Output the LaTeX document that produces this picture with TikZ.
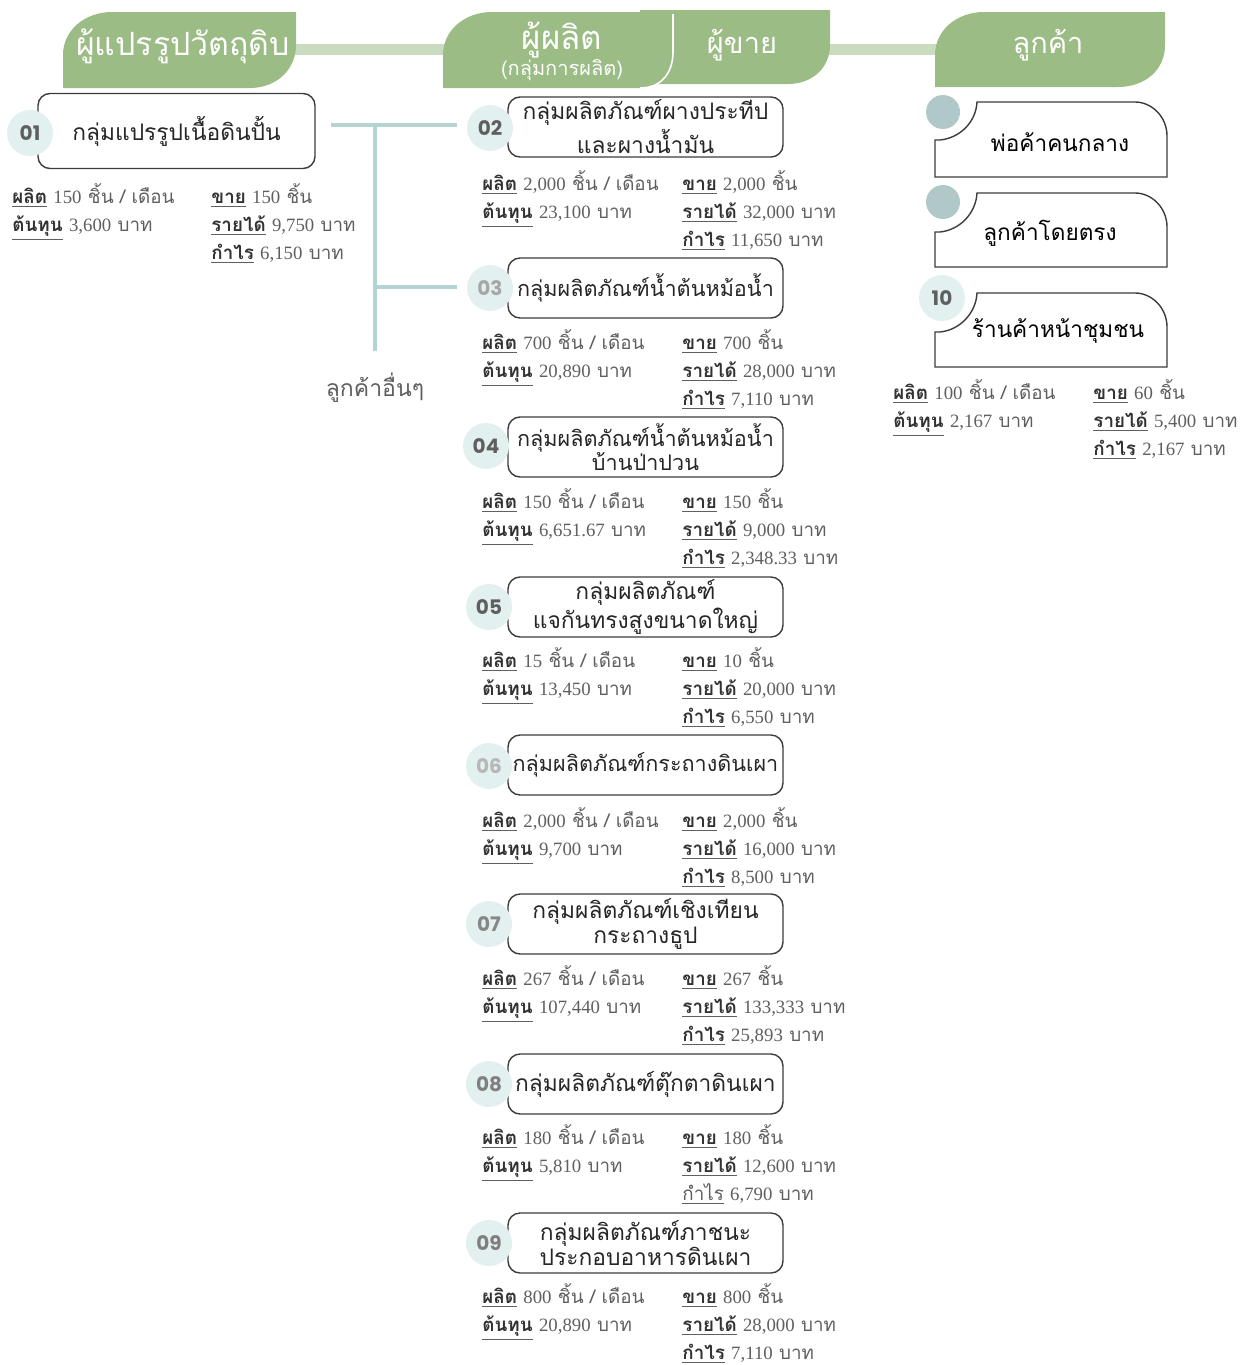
\documentclass[tikz,border=0pt]{standalone}
\usepackage{fontspec}
\setmainfont[Script=Thai]{Loma}
\newfontfamily\numfont{Poppins}
\newfontfamily\valfont{Liberation Serif}
\usetikzlibrary{positioning}
\definecolor{hgreen}{RGB}{155,188,133}
\definecolor{hbar}{RGB}{202,220,192}
\definecolor{linkteal}{RGB}{180,212,212}
\definecolor{numbg}{RGB}{226,240,240}
\definecolor{custbg}{RGB}{176,200,200}
\definecolor{boxline}{RGB}{60,60,60}
\definecolor{statgray}{RGB}{95,95,95}
\definecolor{labelgray}{RGB}{50,50,50}
\definecolor{numgray}{RGB}{95,95,95}
\newcommand{\lbl}[1]{\underline{\textbf{\color{labelgray}#1}}}
\newcommand{\val}[1]{{\valfont #1}}
\tikzset{
  hdrtext/.style={text=white, inner sep=0pt},
  grpbox/.style={draw=boxline, line width=0.7pt, rounded corners=6pt, minimum width=137.5pt,
    minimum height=30pt, align=center, inner sep=1pt, text=black!85,
    font=\fontsize{11.4}{12.5}\selectfont},
  longtitle/.style={font=\fontsize{10.8}{12}\selectfont},
  numdot/.style={circle, fill=numbg, minimum size=23pt, inner sep=0pt, text=numgray,
    font=\numfont\bfseries\fontsize{10}{10}\selectfont},
  custdot/.style={circle, fill=custbg, minimum size=17pt, inner sep=0pt},
  custline/.style={draw=boxline, line width=0.7pt, fill=white},
  custtext/.style={inner sep=0pt, text=black, font=\fontsize{11.3}{12}\selectfont},
  statcol/.style={anchor=north west, align=left, inner sep=0pt, text=statgray,
    font=\fontsize{9.4}{14}\selectfont},
  link/.style={draw=linkteal, line width=2pt},
}
\begin{document}
\begin{tikzpicture}[x=0.5pt, y=-0.5pt]
\useasboundingbox (0,0) rectangle (1245,1365);

\fill[hbar] (290,44) rectangle (945,55);
\fill[hgreen] (63,88) -- (63,55) .. controls (63,30) and (85,12) .. (112,12) -- (296,12)
  -- (296,45) .. controls (296,70) and (276,88) .. (250,88) -- cycle;
\fill[hgreen] (640,10) -- (830,10) -- (830,45) .. controls (830,68) and (812,84) .. (788,84)
  -- (640,84) -- cycle;
\fill[hgreen] (443,88) -- (443,55) .. controls (443,30) and (465,12) .. (492,12) -- (673,12)
  -- (673,52) .. controls (673,72) and (662,88) .. (640,88) -- cycle;
\draw[white, line width=0.8pt] (673,14) -- (673,52) .. controls (673,72) and (662,88) .. (640,88);
\fill[hgreen] (935,87) -- (935,55) .. controls (935,30) and (957,12) .. (984,12) -- (1165,12)
  -- (1165,45) .. controls (1165,70) and (1145,87) .. (1118,87) -- cycle;

\node[hdrtext, font=\fontsize{16}{16}\selectfont] (h01) at (183,46) {ผู้แปรรูปวัตถุดิบ};
\node[hdrtext, font=\fontsize{16.5}{16.5}\selectfont] (h02) at (562,40) {ผู้ผลิต};
\node[hdrtext, font=\fontsize{10}{10}\selectfont] (h02b) at (562,70) {(กลุ่มการผลิต)};
\node[hdrtext, font=\fontsize{14.5}{14.5}\selectfont] (h03) at (742,45) {ผู้ขาย};
\node[hdrtext, font=\fontsize{14.5}{14.5}\selectfont] (h04) at (1048,45) {ลูกค้า};

\node[grpbox, minimum width=138.5pt, minimum height=37.5pt] (g01) at (176.5,131) {กลุ่มแปรรูปเนื้อดินปั้น};
\node[grpbox] (g02) at (645.5,127) {กลุ่มผลิตภัณฑ์ผางประทีป\\[1pt]และผางน้ำมัน};
\node[grpbox, longtitle] (g03) at (645.5,288) {กลุ่มผลิตภัณฑ์น้ำต้นหม้อน้ำ};
\node[grpbox, longtitle] (g04) at (645.5,447) {กลุ่มผลิตภัณฑ์น้ำต้นหม้อน้ำ\\บ้านป่าปวน};
\node[grpbox] (g05) at (645.5,607) {กลุ่มผลิตภัณฑ์\\แจกันทรงสูงขนาดใหญ่};
\node[grpbox, longtitle] (g06) at (645.5,765) {กลุ่มผลิตภัณฑ์กระถางดินเผา};
\node[grpbox] (g07) at (645.5,924) {กลุ่มผลิตภัณฑ์เชิงเทียน\\กระถางธูป};
\node[grpbox] (g08) at (645.5,1084) {กลุ่มผลิตภัณฑ์ตุ๊กตาดินเผา};
\node[grpbox] (g09) at (645.5,1243) {กลุ่มผลิตภัณฑ์ภาชนะ\\ประกอบอาหารดินเผา};

\node[numdot] (n01) at (30,133) {01};
\node[numdot] (n02) at (490,128) {02};
\node[numdot, text=numgray!55] (n03) at (490,288) {03};
\node[numdot] (n04) at (486,446) {04};
\node[numdot] (n05) at (489,607) {05};
\node[numdot, text=numgray!45] (n06) at (489,766) {06};
\node[numdot, text=numgray!75] (n07) at (489,924) {07};
\node[numdot, text=numgray!80] (n08) at (489,1084) {08};
\node[numdot, text=numgray!80] (n09) at (489,1243) {09};

\coordinate (j1) at (375,125);
\coordinate (j2) at (375,287);
\node[text=statgray, inner sep=0pt, font=\fontsize{11.5}{12}\selectfont] (other) at (375,388) {ลูกค้าอื่นๆ};
\draw[link] ([xshift=7.5pt]g01.east |- j1) -- ([xshift=-5pt]n02.west |- j1);
\draw[link] (j1) -- ([yshift=11pt]other.north);
\draw[link] (j2) -- ([xshift=-5pt]n03.west |- j2);

\draw[custline] (935,177) -- (935,140) -- (940,140) .. controls (960,138) and (976,122) .. (977,102)
  -- (1135,102) .. controls (1152,102) and (1167,117) .. (1167,136) -- (1167,177) -- cycle;
\draw[custline] (935,267) -- (935,232) -- (940,232) .. controls (960,230) and (976,213) .. (977,193)
  -- (1135,193) .. controls (1152,193) and (1167,208) .. (1167,227) -- (1167,267) -- cycle;
\draw[custline] (935,367) -- (935,332) -- (940,332) .. controls (960,330) and (976,313) .. (977,293)
  -- (1135,293) .. controls (1152,293) and (1167,308) .. (1167,327) -- (1167,367) -- cycle;
\node[custdot] (c01) at (943,112) {};
\node[custdot] (c02) at (943,202) {};
\node[numdot] (n10) at (942,298) {10};
\node[custtext] (k01) at (1060,142) {พ่อค้าคนกลาง};
\node[custtext] (k02) at (1050,233) {ลูกค้าโดยตรง};
\node[custtext] (k03) at (1058,331) {ร้านค้าหน้าชุมชน};

\node[statcol] (s01a) at (12,179) {\rule{0pt}{12pt}\lbl{ผลิต} \val{150} ชิ้น / เดือน\\\lbl{ต้นทุน} \val{3,600} บาท};
\node[statcol] (s01b) at (211,179) {\rule{0pt}{12pt}\lbl{ขาย} \val{150} ชิ้น\\\lbl{รายได้} \val{9,750} บาท\\\lbl{กำไร} \val{6,150} บาท};
\node[statcol] (s02a) at (482,166) {\rule{0pt}{12pt}\lbl{ผลิต} \val{2,000} ชิ้น / เดือน\\\lbl{ต้นทุน} \val{23,100} บาท};
\node[statcol] (s02b) at (682,166) {\rule{0pt}{12pt}\lbl{ขาย} \val{2,000} ชิ้น\\\lbl{รายได้} \val{32,000} บาท\\\lbl{กำไร} \val{11,650} บาท};
\node[statcol] (s03a) at (482,325) {\rule{0pt}{12pt}\lbl{ผลิต} \val{700} ชิ้น / เดือน\\\lbl{ต้นทุน} \val{20,890} บาท};
\node[statcol] (s03b) at (682,325) {\rule{0pt}{12pt}\lbl{ขาย} \val{700} ชิ้น\\\lbl{รายได้} \val{28,000} บาท\\\lbl{กำไร} \val{7,110} บาท};
\node[statcol] (s04a) at (482,484) {\rule{0pt}{12pt}\lbl{ผลิต} \val{150} ชิ้น / เดือน\\\lbl{ต้นทุน} \val{6,651.67} บาท};
\node[statcol] (s04b) at (682,484) {\rule{0pt}{12pt}\lbl{ขาย} \val{150} ชิ้น\\\lbl{รายได้} \val{9,000} บาท\\\lbl{กำไร} \val{2,348.33} บาท};
\node[statcol] (s05a) at (482,643) {\rule{0pt}{12pt}\lbl{ผลิต} \val{15} ชิ้น / เดือน\\\lbl{ต้นทุน} \val{13,450} บาท};
\node[statcol] (s05b) at (682,643) {\rule{0pt}{12pt}\lbl{ขาย} \val{10} ชิ้น\\\lbl{รายได้} \val{20,000} บาท\\\lbl{กำไร} \val{6,550} บาท};
\node[statcol] (s06a) at (482,803) {\rule{0pt}{12pt}\lbl{ผลิต} \val{2,000} ชิ้น / เดือน\\\lbl{ต้นทุน} \val{9,700} บาท};
\node[statcol] (s06b) at (682,803) {\rule{0pt}{12pt}\lbl{ขาย} \val{2,000} ชิ้น\\\lbl{รายได้} \val{16,000} บาท\\\lbl{กำไร} \val{8,500} บาท};
\node[statcol] (s07a) at (482,961) {\rule{0pt}{12pt}\lbl{ผลิต} \val{267} ชิ้น / เดือน\\\lbl{ต้นทุน} \val{107,440} บาท};
\node[statcol] (s07b) at (682,961) {\rule{0pt}{12pt}\lbl{ขาย} \val{267} ชิ้น\\\lbl{รายได้} \val{133,333} บาท\\\lbl{กำไร} \val{25,893} บาท};
\node[statcol] (s08a) at (482,1120) {\rule{0pt}{12pt}\lbl{ผลิต} \val{180} ชิ้น / เดือน\\\lbl{ต้นทุน} \val{5,810} บาท};
\node[statcol] (s08b) at (682,1120) {\rule{0pt}{12pt}\lbl{ขาย} \val{180} ชิ้น\\\lbl{รายได้} \val{12,600} บาท\\\underline{กำไร} \val{6,790} บาท};
\node[statcol] (s09a) at (482,1279) {\rule{0pt}{12pt}\lbl{ผลิต} \val{800} ชิ้น / เดือน\\\lbl{ต้นทุน} \val{20,890} บาท};
\node[statcol] (s09b) at (682,1279) {\rule{0pt}{12pt}\lbl{ขาย} \val{800} ชิ้น\\\lbl{รายได้} \val{28,000} บาท\\\lbl{กำไร} \val{7,110} บาท};
\node[statcol] (s10a) at (893,375) {\rule{0pt}{12pt}\lbl{ผลิต} \val{100} ชิ้น / เดือน\\\lbl{ต้นทุน} \val{2,167} บาท};
\node[statcol] (s10b) at (1093,375) {\rule{0pt}{12pt}\lbl{ขาย} \val{60} ชิ้น\\\lbl{รายได้} \val{5,400} บาท\\\lbl{กำไร} \val{2,167} บาท};
\end{tikzpicture}
\end{document}
